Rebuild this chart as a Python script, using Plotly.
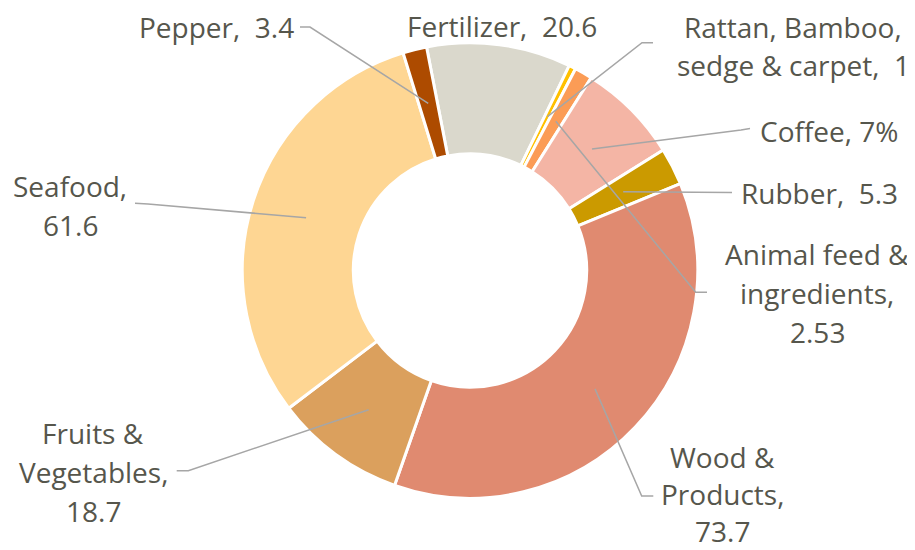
import math
import plotly.graph_objects as go

# ---------------- data ----------------
categories = ["Fertilizer", "Rattan, Bamboo, sedge & carpet", "Animal feed & ingredients",
              "Coffee", "Rubber", "Wood & Products", "Fruits & Vegetables", "Seafood", "Pepper"]
values = [20.6, 1, 2.53, 14.5, 5.3, 73.7, 18.7, 61.6, 3.4]
label_templates = [
    "Fertilizer,\u00a0 {v}",
    "Rattan, Bamboo,<br>sedge & carpet,\u00a0 {v}",
    "Animal feed &<br>ingredients,<br>{v}",
    "Coffee, {p}",
    "Rubber,\u00a0 {v}",
    "Wood &<br>Products,<br>{v}",
    "Fruits &<br>Vegetables,<br>{v}",
    "Seafood,<br>{v}",
    "Pepper,\u00a0 {v}",
]
colors = ["#DAD8CC", "#FFC000", "#FB9C56", "#F4B5A5", "#CB9A00",
          "#E08A70", "#DBA05D", "#FED693", "#AD4B00"]

# ---------------- layout constants (window pixels) ----------------
OFF = 8                      # default page body margin
W, H = 915 - OFF, 550 - OFF  # figure size so it fills the window exactly
CX, CY, R = 470.0, 270.5, 227.7
HOLE = 0.5125
ROTATION = -11.0
# label centre positions and line spacing
label_pos = [(502, 26), (793, 46), (817, 293), (829, 131), (819, 193),
             (722, 494), (93, 472), (70, 205), (216, 27)]
label_sp = [39, 39, 39, 39, 39, 37, 39, 39, 39]
# leader line: (tail, elbow) or None
leaders = [None,
           ((653, 42.7), (642, 42.7)),
           ((707, 292.3), (695.7, 292.3)),
           ((750, 128.5), (741, 130)),
           ((732, 192.5), (732, 192.5)),
           ((653.3, 496), (641.7, 496)),
           ((176.7, 470.7), (188.3, 470.7)),
           ((135, 203.3), (148, 204)),
           ((300, 27), (310, 27))]

FONT = "Open Sans, sans-serif"
FSIZE = 28
TXT = "#56564C"
LINE = "#A6A6A6"


def px(x):
    return (x - OFF) / W


def py(y):
    return 1 - (y - OFF) / H


fig = go.Figure(go.Pie(
    labels=categories, values=values, sort=False, direction="clockwise",
    rotation=ROTATION, hole=HOLE, textinfo="none", hoverinfo="label+value+percent",
    marker=dict(colors=colors, line=dict(color="white", width=3)),
    domain=dict(x=[px(CX - R), px(CX + R)], y=[py(CY + R), py(CY - R)]),
    showlegend=False,
))

total = sum(values)
cum = 0.0
annotations, shapes = [], []
r_mid = R * (1 + HOLE) / 2
for i, v in enumerate(values):
    mid = ROTATION + (cum + v / 2) / total * 360.0
    cum += v
    hx = CX + r_mid * math.sin(math.radians(mid))
    hy = CY - r_mid * math.cos(math.radians(mid))
    text = label_templates[i].format(v=f"{v:g}", p=f"{round(v / total * 100)}%")
    lx, ly = label_pos[i]
    lines = text.split("<br>")
    n = len(lines)
    for k, line in enumerate(lines):
        yy = ly + (k - (n - 1) / 2) * label_sp[i]
        annotations.append(dict(text=line, x=px(lx), y=py(yy), xref="paper", yref="paper",
                                showarrow=False, xanchor="center", yanchor="middle",
                                align="center", borderpad=0,
                                font=dict(family=FONT, size=FSIZE, color=TXT)))
    if leaders[i] is not None:
        (tx, ty), (ex, ey) = leaders[i]
        path = f"M {px(tx)},{py(ty)} L {px(ex)},{py(ey)} L {px(hx)},{py(hy)}"
        shapes.append(dict(type="path", path=path, xref="paper", yref="paper",
                           line=dict(color=LINE, width=1.5)))

fig.update_layout(
    width=W, height=H, margin=dict(l=0, r=0, t=0, b=0),
    paper_bgcolor="white", plot_bgcolor="white",
    annotations=annotations, shapes=shapes,
)
fig.write_html("out.html")
